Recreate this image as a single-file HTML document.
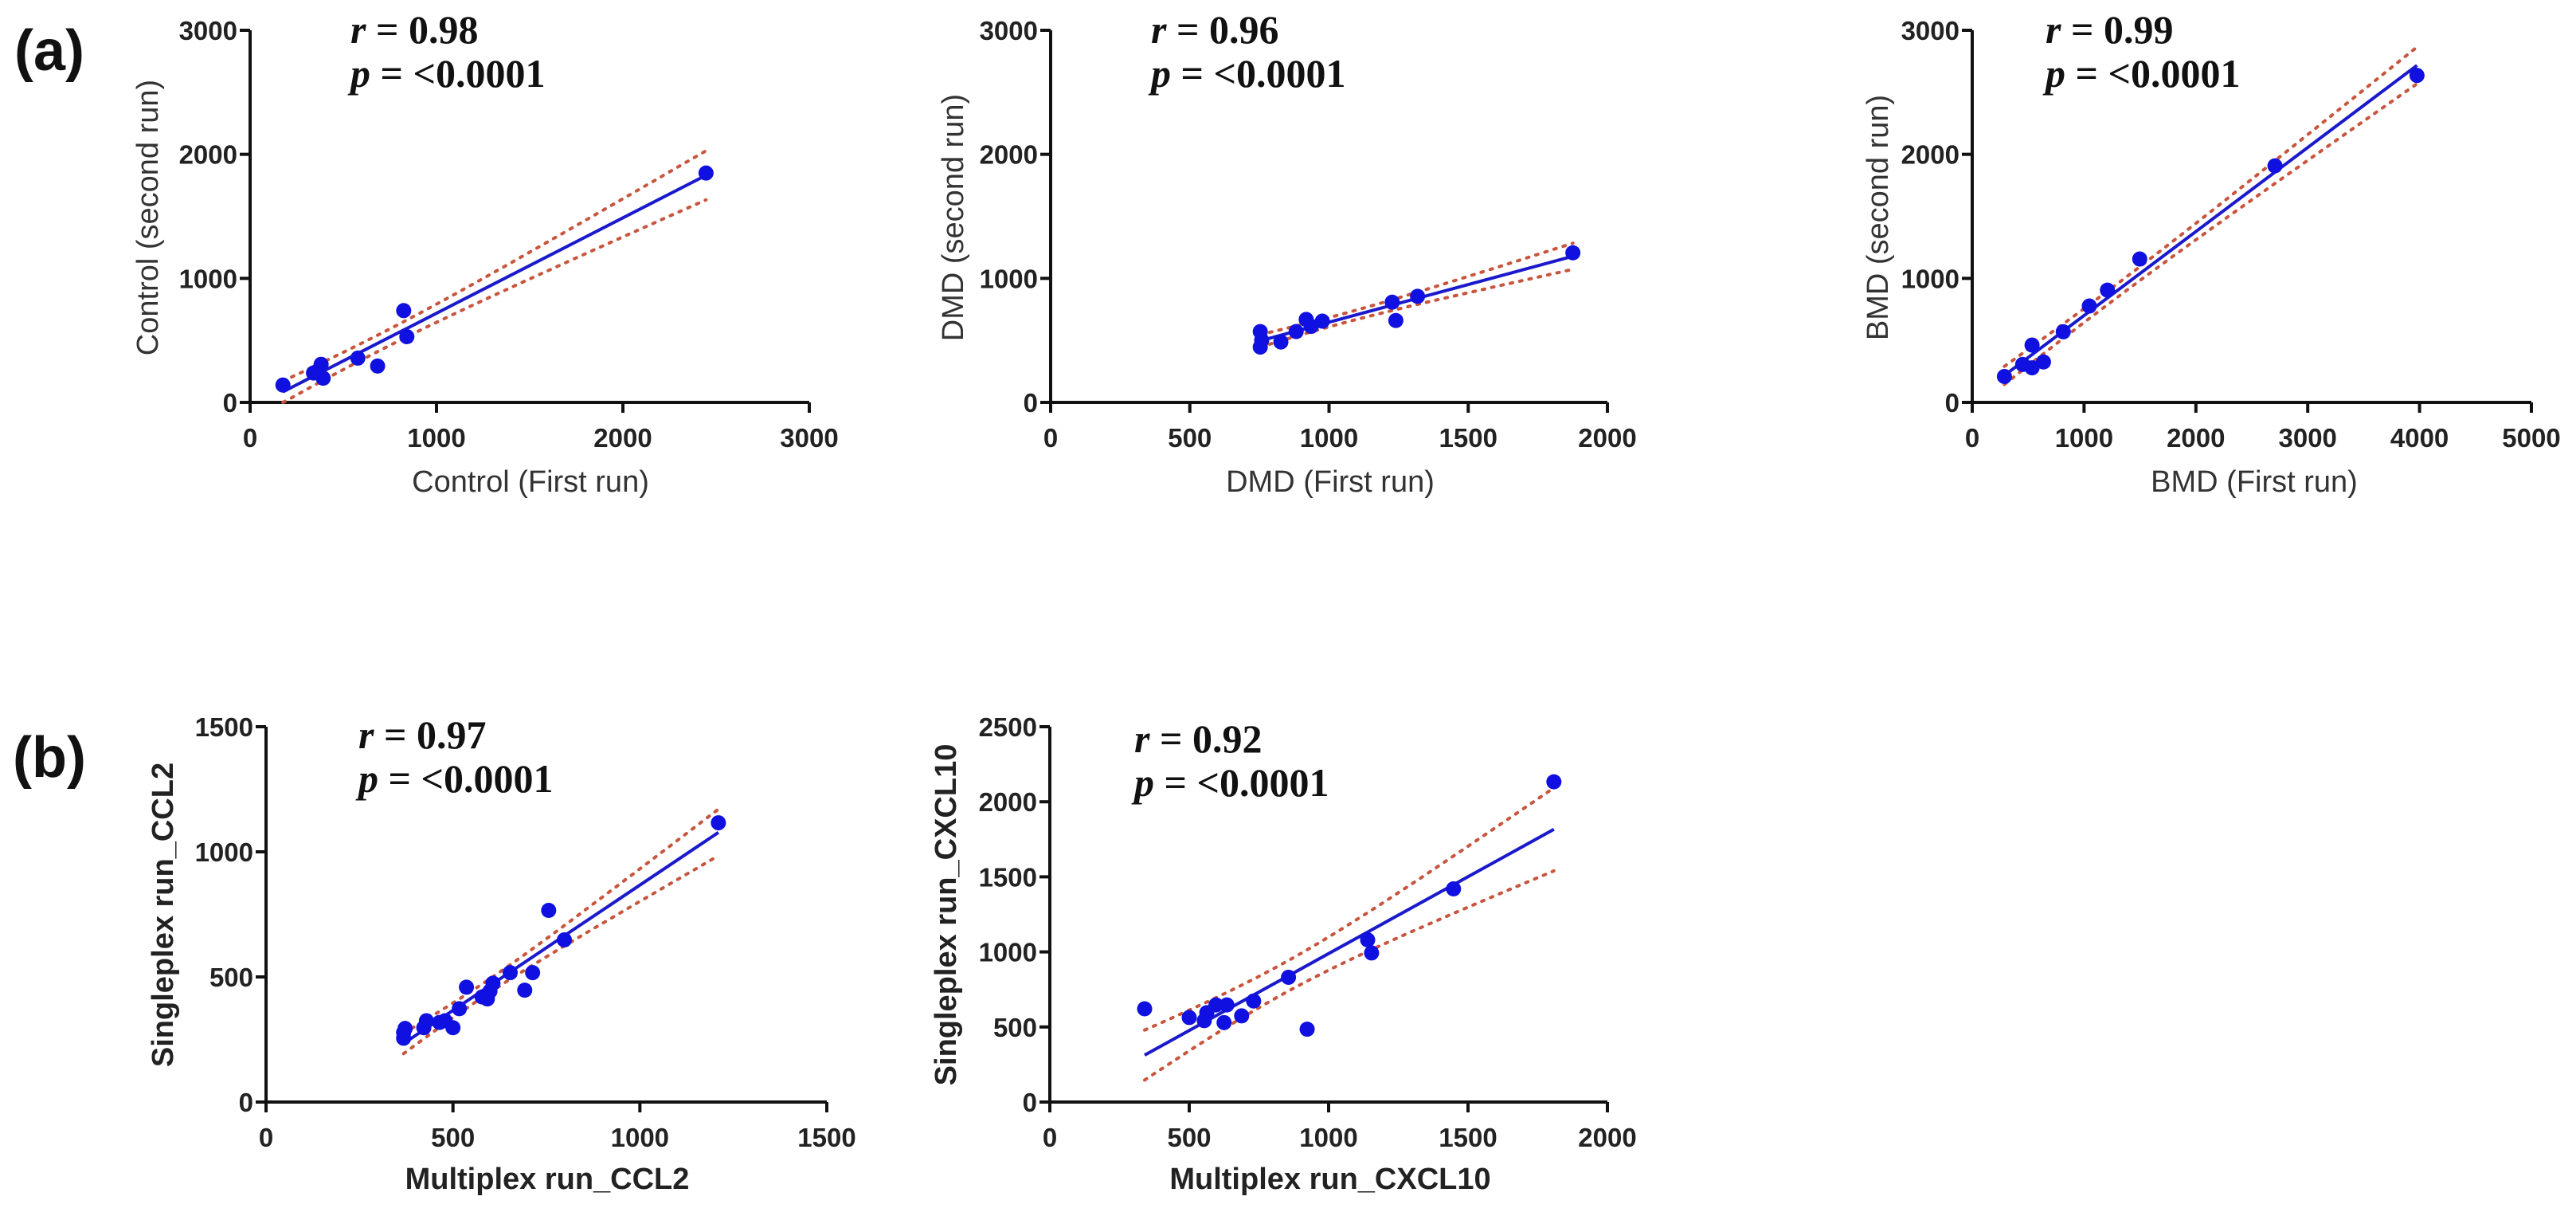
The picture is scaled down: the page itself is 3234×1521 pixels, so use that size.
<!DOCTYPE html>
<html><head><meta charset="utf-8"><style>
html,body{margin:0;padding:0;background:#fff;}
svg{display:block;}
.tick{font-family:"Liberation Sans",sans-serif;font-weight:bold;font-size:33px;fill:#222;}
.ttl{font-family:"Liberation Sans",sans-serif;font-size:38px;fill:#333;}
.ttlb{font-family:"Liberation Sans",sans-serif;font-size:38px;font-weight:bold;fill:#222;}
.stat{font-family:"Liberation Serif",serif;font-size:50px;font-weight:bold;fill:#111;}
.lbl{font-family:"Liberation Sans",sans-serif;font-size:72px;font-weight:bold;fill:#111;}
</style></head><body>
<svg id="fig" width="3234" height="1521" viewBox="0 0 3234 1521" xmlns="http://www.w3.org/2000/svg">
<text class="lbl" x="18" y="88">(a)</text>
<text class="lbl" x="16" y="975">(b)</text>
</svg>
<script>
// Panel 1: Control
const ctrlX = [176,340,381,392,360,578,684,824,841,2446];
const ctrlY = [140,237,307,195,250,357,293,740,530,1849];
const ctrlXTicks = [0,1000,2000,3000];
const ctrlYTicks = [0,1000,2000,3000];
// Panel 2: DMD
const dmdX = [753,753,758,827,882,918,936,976,1227,1240,1318,1876];
const dmdY = [571,446,501,487,571,669,613,655,808,660,855,1206];
const dmdXTicks = [0,500,1000,1500,2000];
const dmdYTicks = [0,1000,2000,3000];
// Panel 3: BMD
const bmdX = [288,451,535,535,637,814,1047,1209,1498,2707,3977];
const bmdY = [209,306,279,462,326,569,777,905,1156,1907,2636];
const bmdXTicks = [0,1000,2000,3000,4000,5000];
const bmdYTicks = [0,1000,2000,3000];
// Panel 4: CCL2
const ccl2X = [368,368,372,422,429,464,479,500,517,536,578,592,599,607,653,692,713,756,798,1210];
const ccl2Y = [255,278,294,297,325,318,325,297,373,459,420,412,443,475,517,447,517,766,648,1116];
const ccl2XTicks = [0,500,1000,1500];
const ccl2YTicks = [0,500,1000,1500];
// Panel 5: CXCL10
const cxclX = [340,500,554,563,596,625,635,688,731,856,923,1140,1154,1448,1808];
const cxclY = [621,563,542,595,647,529,647,574,673,831,485,1080,993,1420,2133];
const cxclXTicks = [0,500,1000,1500,2000];
const cxclYTicks = [0,500,1000,1500,2000,2500];

const NS = "http://www.w3.org/2000/svg";
const svg = document.getElementById('fig');
function mk(tag, attrs, parent){
  const e = document.createElementNS(NS, tag);
  for (const k in attrs) e.setAttribute(k, attrs[k]);
  (parent||svg).appendChild(e);
  return e;
}
function panel(cfg){
  const g = mk('g', {});
  
  
  const xMax = cfg.xt[cfg.xt.length-1], yMax = cfg.yt[cfg.yt.length-1];
  const sx = v => cfg.x0 + (v/xMax)*(cfg.x1-cfg.x0);
  const sy = v => cfg.y0 - (v/yMax)*(cfg.y0-cfg.y1);
  const ax = mk('path', {d:`M${cfg.x0} ${cfg.y1} L${cfg.x0} ${cfg.y0} L${cfg.x1} ${cfg.y0}`, stroke:'#111','stroke-width':4, fill:'none'}, g);
  
  
  cfg.xt.forEach(t => {
    mk('line', {x1:sx(t), x2:sx(t), y1:cfg.y0, y2:cfg.y0+13, stroke:'#111','stroke-width':4}, g);
    const tx = mk('text', {class:'tick', x:sx(t), y:cfg.y0+56, 'text-anchor':'middle'}, g);
    tx.textContent = t;
    
    
  });
  cfg.yt.forEach(t => {
    mk('line', {x1:cfg.x0-13, x2:cfg.x0, y1:sy(t), y2:sy(t), stroke:'#111','stroke-width':4}, g);
    const tx = mk('text', {class:'tick', x:cfg.x0-16, y:sy(t)+12, 'text-anchor':'end'}, g);
    tx.textContent = t;
    
    
  });
  const xtt = mk('text', {class:cfg.bold?'ttlb':'ttl', x:cfg.xtx, y:cfg.xty, 'text-anchor':'middle'}, g);
  xtt.textContent = cfg.xtitle;
  
  
  const ytt = mk('text', {class:cfg.bold?'ttlb':'ttl', x:0, y:0, 'text-anchor':'middle', transform:`translate(${cfg.ytx},${cfg.yty}) rotate(-90)`}, g);
  ytt.textContent = cfg.ytitle;
  
  
  const r = mk('text', {class:'stat', x:cfg.sx, y:cfg.sy}, g);
  r.innerHTML = '<tspan font-style="italic">r</tspan> = ' + cfg.r;
  
  
  const p = mk('text', {class:'stat', x:cfg.sx, y:cfg.sy+55}, g);
  p.innerHTML = '<tspan font-style="italic">p</tspan> = &lt;0.0001';
  
  
  const X = cfg.X, Y = cfg.Y, n = X.length;
  const mx = X.reduce((a,b)=>a+b,0)/n, my = Y.reduce((a,b)=>a+b,0)/n;
  let sxx=0, sxy=0;
  for (let i=0;i<n;i++){ sxx += (X[i]-mx)**2; sxy += (X[i]-mx)*(Y[i]-my); }
  const b = sxy/sxx, a = my - b*mx;
  let sse=0; for (let i=0;i<n;i++) sse += (Y[i]-a-b*X[i])**2;
  const se = Math.sqrt(sse/(n-2)), tval = 2.15;
  const xmin = Math.min(...X), xmax = Math.max(...X);
  const up=[], lo=[];
  for (let k=0;k<=40;k++){
    const xv = xmin + (xmax-xmin)*k/40;
    const h = tval*se*Math.sqrt(1/n + (xv-mx)**2/sxx);
    const yv = a+b*xv;
    up.push(`${sx(xv).toFixed(1)},${sy(Math.max(0,yv+h)).toFixed(1)}`);
    lo.push(`${sx(xv).toFixed(1)},${sy(Math.max(0,yv-h)).toFixed(1)}`);
  }
  const cu = mk('polyline', {points:up.join(' '), fill:'none', stroke:'#c8553d','stroke-width':4,'stroke-dasharray':'3 9','stroke-linecap':'round'}, g);
  
  
  const cl = mk('polyline', {points:lo.join(' '), fill:'none', stroke:'#c8553d','stroke-width':4,'stroke-dasharray':'3 9','stroke-linecap':'round'}, g);
  
  
  const fl = mk('line', {x1:sx(xmin), y1:sy(a+b*xmin), x2:sx(xmax), y2:sy(a+b*xmax), stroke:'#1a1acc','stroke-width':4}, g);
  
  
  for (let i=0;i<n;i++){
    const c = mk('ellipse', {cx:sx(X[i]), cy:sy(Y[i]), rx:9.5, ry:9.5, fill:'#1010e0'}, g);
    
    
  }
}
panel({name:'control-panel', X:ctrlX, Y:ctrlY, xt:ctrlXTicks, yt:ctrlYTicks, x0:314, x1:1016, y0:505, y1:38,
  xtitle:'Control (First run)', ytitle:'Control (second run)', xtx:666, xty:617, ytx:198, yty:273, sx:440, sy:54, r:'0.98'});
panel({name:'dmd-panel', X:dmdX, Y:dmdY, xt:dmdXTicks, yt:dmdYTicks, x0:1319, x1:2018, y0:505, y1:38,
  xtitle:'DMD (First run)', ytitle:'DMD (second run)', xtx:1670, xty:617, ytx:1209, yty:273, sx:1445, sy:54, r:'0.96'});
panel({name:'bmd-panel', X:bmdX, Y:bmdY, xt:bmdXTicks, yt:bmdYTicks, x0:2476, x1:3178, y0:505, y1:38,
  xtitle:'BMD (First run)', ytitle:'BMD (second run)', xtx:2830, xty:617, ytx:2370, yty:273, sx:2568, sy:54, r:'0.99'});
panel({name:'ccl2-panel', bold:true, X:ccl2X, Y:ccl2Y, xt:ccl2XTicks, yt:ccl2YTicks, x0:334, x1:1038, y0:1383, y1:912,
  xtitle:'Multiplex run_CCL2', ytitle:'Singleplex run_CCL2', xtx:687, xty:1492, ytx:217, yty:1148, sx:450, sy:939, r:'0.97'});
panel({name:'cxcl10-panel', bold:true, X:cxclX, Y:cxclY, xt:cxclXTicks, yt:cxclYTicks, x0:1318, x1:2018, y0:1383, y1:912,
  xtitle:'Multiplex run_CXCL10', ytitle:'Singleplex run_CXCL10', xtx:1670, xty:1492, ytx:1200, yty:1148, sx:1424, sy:944, r:'0.92'});
</script>
</body></html>
